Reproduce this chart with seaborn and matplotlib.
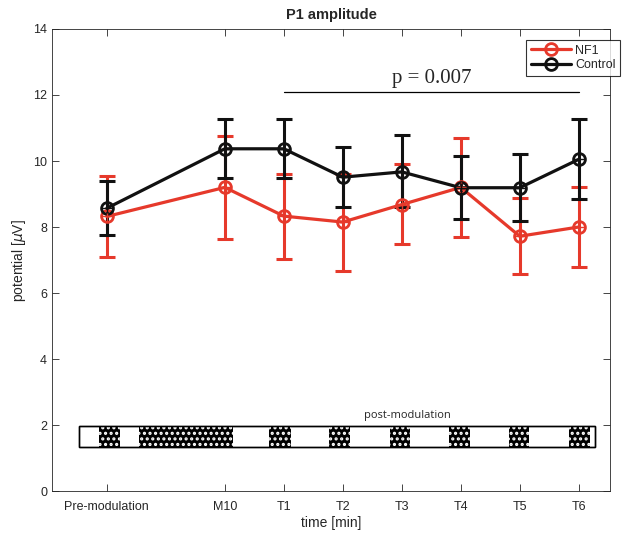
import numpy as np
import pandas as pd
import seaborn as sns
import matplotlib.pyplot as plt
from matplotlib.patches import Rectangle

# time points (Pre-modulation, then M10 and T1..T6 one slot apart)
labels = ["Pre-modulation", "M10", "T1", "T2", "T3", "T4", "T5", "T6"]
xpos = [0, 2, 3, 4, 5, 6, 7, 8]

nf1_mean = [8.32, 9.20, 8.33, 8.15, 8.68, 9.20, 7.72, 8.00]
nf1_lo = [7.08, 7.65, 7.03, 6.67, 7.47, 7.70, 6.57, 6.78]
nf1_hi = [9.55, 10.75, 9.60, 9.62, 9.92, 10.70, 8.89, 9.22]

ctl_mean = [8.57, 10.37, 10.37, 9.51, 9.67, 9.19, 9.19, 10.05]
ctl_lo = [7.75, 9.47, 9.47, 8.60, 8.60, 8.23, 8.17, 8.85]
ctl_hi = [9.40, 11.27, 11.28, 10.43, 10.78, 10.16, 10.21, 11.27]

# stimulus timeline bar (x extent and checkered blocks)
bar_span = (-0.47, 8.27)
bar_y = (1.33, 1.97)
block_start = [-0.14, 0.54, 2.75, 3.76, 4.80, 5.80, 6.81, 7.83]
block_end = [0.23, 2.14, 3.12, 4.12, 5.14, 6.15, 7.15, 8.19]

red = "#e6392b"
black = "#111111"

df = pd.DataFrame({
    "x": xpos * 2,
    "y": nf1_mean + ctl_mean,
    "group": ["NF1"] * 8 + ["Control"] * 8,
})

sns.set_style("ticks")
plt.rcParams["font.family"] = ["Liberation Sans", "DejaVu Sans"]
plt.rcParams["hatch.color"] = "white"
plt.rcParams["hatch.linewidth"] = 1.5

fig = plt.figure(figsize=(6.31, 5.34), dpi=100)
ax = fig.add_axes([0.0824, 0.0805, 0.8843, 0.8652])

for name, mean, lo, hi, col in [("NF1", nf1_mean, nf1_lo, nf1_hi, red),
                                ("Control", ctl_mean, ctl_lo, ctl_hi, black)]:
    m = np.array(mean)
    yerr = [m - np.array(lo), np.array(hi) - m]
    ax.errorbar(xpos, m, yerr=yerr, fmt="none", ecolor=col, elinewidth=2.2,
                capsize=6, capthick=2.2, zorder=2)
    sns.lineplot(data=df[df.group == name], x="x", y="y", ax=ax, color=col,
                 linewidth=2.3, marker="o", markersize=8.5, markerfacecolor="none",
                 markeredgecolor=col, markeredgewidth=2, label=name, zorder=3)
    ax.plot(xpos, m, "+", color=col, markersize=7, markeredgewidth=1.0, zorder=4)

# significance bracket
ax.plot([3, 8], [12.08, 12.08], color="black", linewidth=0.9)
ax.text(5.5, 12.2, "p = 0.007", ha="center", va="bottom", fontsize=15,
        family=["Liberation Serif", "DejaVu Serif"])

# timeline bar
ax.add_patch(Rectangle((bar_span[0], bar_y[0]), bar_span[1] - bar_span[0],
                       bar_y[1] - bar_y[0], facecolor="white", edgecolor="black",
                       linewidth=1, zorder=2))
for s, e in zip(block_start, block_end):
    ax.add_patch(Rectangle((s, bar_y[0]), e - s, bar_y[1] - bar_y[0],
                           facecolor="black", edgecolor="white", hatch="...",
                           linewidth=0, zorder=3))
ax.add_patch(Rectangle((bar_span[0], bar_y[0]), bar_span[1] - bar_span[0],
                       bar_y[1] - bar_y[0], facecolor="none", edgecolor="black",
                       linewidth=1, zorder=4))
ax.text(5.1, 2.12, "post-modulation", ha="center", va="bottom", fontsize=8,
        family=["Open Sans", "DejaVu Sans"])

ax.set_xlim(-0.93, 8.53)
ax.set_ylim(0, 14)
ax.set_xticks(xpos)
ax.set_xticklabels(labels)
ax.set_yticks(range(0, 15, 2))
ax.tick_params(direction="in", top=True, right=True, labelsize=9,
               colors="#262626", length=5, width=0.6)
ax.tick_params(axis="x", pad=7)
for sp in ax.spines.values():
    sp.set_visible(True)
    sp.set_linewidth(0.6)
    sp.set_color("#262626")
ax.set_xlabel("time [min]", fontsize=10, labelpad=2)
ax.set_ylabel("potential [$\\mu$V]", fontsize=10)
ax.set_title("P1 amplitude", fontsize=10.5, fontweight="bold", pad=7)

leg = ax.legend(loc="upper right", bbox_to_anchor=(1.03, 0.99), fontsize=9,
                frameon=True, fancybox=False, edgecolor="black", handlelength=3.2,
                borderpad=0.4, labelspacing=0.2, handletextpad=0.3)
leg.get_frame().set_linewidth(0.8)

fig.savefig("out.png", dpi=100)
